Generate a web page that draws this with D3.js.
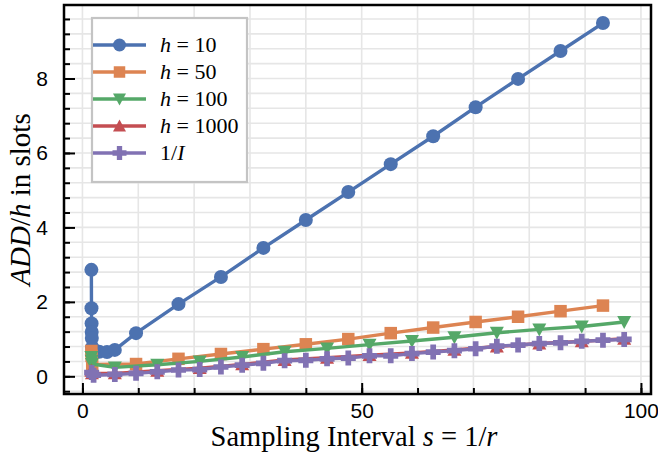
<!DOCTYPE html>
<html lang="en">
<head>
<meta charset="utf-8">
<title>ADD/h vs Sampling Interval</title>
<script src="https://d3js.org/d3.v7.min.js"></script>
<style>
  html,body { margin:0; padding:0; background:#fff; overflow:hidden; }
  svg { display:block; }
  .tick text { font-family:"Liberation Sans", Arial, sans-serif; font-size:21px; fill:#000; }
  .serif { font-family:"Liberation Serif", "Times New Roman", serif; fill:#000; }
</style>
</head>
<body>
<svg width="658" height="453"></svg>
<script>
/* ---------------- data ---------------- */
const xMajorTicks = [0, 50, 100];
const xMinorTicks = [0, 10, 20, 30, 40, 50, 60, 70, 80, 90, 100];
const yMajorTicks = [0, 2, 4, 6, 8];

// h = 10
const h10X = [1.6, 1.62, 1.64, 1.66, 1.68, 1.75, 3.0, 4.4, 5.8,
              9.6, 17.2, 24.8, 32.4, 40, 47.6, 55.2, 62.8, 70.4, 78, 85.6, 93.2];
const h10Y = [2.86, 1.83, 1.42, 1.19, 1.03, 0.78, 0.66, 0.65, 0.71,
              1.16, 1.94, 2.67, 3.45, 4.20, 4.95, 5.70, 6.45, 7.23, 7.99, 8.74, 9.49];

// h = 50
const h50X = [1.6, 1.65, 1.75, 9.6, 17.2, 24.8, 32.4, 40, 47.6, 55.2, 62.8, 70.4, 78, 85.6, 93.2];
const h50Y = [0.68, 0.55, 0.32, 0.33, 0.47, 0.60, 0.73, 0.86, 1.00, 1.16, 1.31, 1.46, 1.60, 1.75, 1.90];

// h = 100
const h100X = [1.6, 1.65, 1.7, 5.8, 13.4, 21, 28.6, 36.2, 43.8, 51.4, 59, 66.6, 74.2, 81.8, 89.4, 97];
const h100Y = [0.52, 0.42, 0.33, 0.24, 0.31, 0.40, 0.52, 0.66, 0.75, 0.85, 0.95, 1.05, 1.17, 1.26, 1.34, 1.46];

// h = 1000
const h1000X = [1.6, 1.7, 5.8, 13.4, 21, 28.6, 36.2, 43.8, 51.4, 59, 66.6, 74.2, 81.8, 89.4, 97];
const h1000Y = [0.15, 0.08, 0.08, 0.15, 0.22, 0.32, 0.44, 0.50, 0.57, 0.63, 0.71, 0.80, 0.88, 0.94, 1.01];

// 1/I
const invIX = [1.65, 2, 5.8, 9.6, 13.4, 17.2, 21, 24.8, 28.6, 32.4, 36.2, 40, 43.8, 47.6,
               51.4, 55.2, 59, 62.8, 66.6, 70.4, 74.2, 78, 81.8, 85.6, 89.4, 93.2, 97];
const invIY = [0.10, 0.03, 0.05, 0.08, 0.12, 0.17, 0.18, 0.25, 0.30, 0.35, 0.42, 0.43, 0.47, 0.49,
               0.55, 0.55, 0.61, 0.65, 0.69, 0.74, 0.81, 0.84, 0.88, 0.90, 0.94, 0.97, 0.99];

const series = [
  { label: ["h", "= 10"],   xs: h10X,   ys: h10Y,   color: "#4C72B0", marker: "circle" },
  { label: ["h", "= 50"],   xs: h50X,   ys: h50Y,   color: "#DD8452", marker: "square" },
  { label: ["h", "= 100"],  xs: h100X,  ys: h100Y,  color: "#55A868", marker: "tridown" },
  { label: ["h", "= 1000"], xs: h1000X, ys: h1000Y, color: "#C44E52", marker: "triup" },
  { label: ["1/", "I"],     xs: invIX,  ys: invIY,  color: "#8172B3", marker: "plus" }
];

/* ---------------- layout ---------------- */
const plot = { left: 64, right: 651, top: 5, bottom: 394 };

const x = d3.scaleLinear().domain([-3.3, 101.8]).range([plot.left, plot.right]);
const y = d3.scaleLinear().domain([-0.475, 9.975]).range([plot.bottom, plot.top]);

const svg = d3.select("svg");

// grid
const yMinor = d3.range(-1, 25).map(i => +(i * 0.4).toFixed(1));
const grid = svg.append("g").attr("stroke", "#e6e6e6").attr("stroke-width", 1.6);
grid.selectAll(".gx").data(xMinorTicks).join("line")
  .attr("x1", d => x(d)).attr("x2", d => x(d))
  .attr("y1", plot.top).attr("y2", plot.bottom);
grid.selectAll(".gy").data(yMinor).join("line")
  .attr("x1", plot.left).attr("x2", plot.right)
  .attr("y1", d => y(d)).attr("y2", d => y(d));

/* ---------------- series ---------------- */
function markerPath(type, s) {
  const a = s / 2;
  switch (type) {
    case "square":  return `M${-a},${-a}h${s}v${s}h${-s}Z`;
    case "tridown": return `M${-a},${-a * 0.85}L${a},${-a * 0.85}L0,${a}Z`;
    case "triup":   return `M${-a},${a * 0.85}L${a},${a * 0.85}L0,${-a}Z`;
    case "plus": {
      const t = s * 0.19;
      return `M${-t},${-a}H${t}V${-t}H${a}V${t}H${t}V${a}H${-t}V${t}H${-a}V${-t}H${-t}Z`;
    }
  }
}

function drawMarker(g, type, color, size) {
  if (type === "circle") {
    g.append("circle").attr("r", size / 2).attr("fill", color);
  } else {
    g.append("path").attr("d", markerPath(type, size)).attr("fill", color);
  }
}

const line = d3.line().x(d => x(d[0])).y(d => y(d[1]));
const sizes = { circle: 14, square: 12.5, tridown: 14, triup: 14, plus: 15 };

series.forEach(s => {
  const pts = s.xs.map((v, i) => [v, s.ys[i]]);
  const g = svg.append("g");
  g.append("path").datum(pts)
    .attr("d", line).attr("fill", "none")
    .attr("stroke", s.color).attr("stroke-width", 3.4)
    .attr("stroke-linejoin", "round");
  pts.forEach(p => {
    const m = g.append("g").attr("transform", `translate(${x(p[0])},${y(p[1])})`);
    drawMarker(m, s.marker, s.color, sizes[s.marker]);
  });
});

/* ---------------- axes ---------------- */
const xAxis = svg.append("g").attr("transform", `translate(0,${plot.bottom})`)
  .call(d3.axisBottom(x).tickValues(xMajorTicks).tickSize(-11).tickPadding(9).tickFormat(d3.format("d")));
const xAxisMinor = svg.append("g").attr("transform", `translate(0,${plot.bottom})`)
  .call(d3.axisBottom(x).tickValues(xMinorTicks).tickSize(-6).tickFormat(""));
const yAxis = svg.append("g").attr("transform", `translate(${plot.left},0)`)
  .call(d3.axisLeft(y).tickValues(yMajorTicks).tickSize(-11).tickPadding(16).tickFormat(d3.format("d")));
const yAxisMinor = svg.append("g").attr("transform", `translate(${plot.left},0)`)
  .call(d3.axisLeft(y).tickValues(yMinor).tickSize(-6).tickFormat(""));

[xAxis, xAxisMinor, yAxis, yAxisMinor].forEach(a => {
  a.select(".domain").remove();
  a.selectAll(".tick line").attr("stroke", "#000").attr("stroke-width", 2);
});

// frame
svg.append("rect")
  .attr("x", plot.left).attr("y", plot.top)
  .attr("width", plot.right - plot.left).attr("height", plot.bottom - plot.top)
  .attr("fill", "none").attr("stroke", "#000").attr("stroke-width", 2.5);

/* ---------------- labels ---------------- */
const xl = svg.append("text").attr("class", "serif")
  .attr("x", 354).attr("y", 446)
  .attr("text-anchor", "middle").attr("font-size", 28.5);
xl.append("tspan").text("Sampling Interval ");
xl.append("tspan").attr("font-style", "italic").text("s");
xl.append("tspan").text(" = 1/");
xl.append("tspan").attr("font-style", "italic").text("r");

const yl = svg.append("text").attr("class", "serif")
  .attr("transform", `translate(30,${(plot.top + plot.bottom) / 2}) rotate(-90)`)
  .attr("text-anchor", "middle").attr("font-size", 29);
yl.append("tspan").attr("font-style", "italic").text("ADD");
yl.append("tspan").text("/");
yl.append("tspan").attr("font-style", "italic").text("h");
yl.append("tspan").text(" in slots");

/* ---------------- legend ---------------- */
const legend = svg.append("g");
legend.append("rect")
  .attr("x", 92).attr("y", 18).attr("width", 155).attr("height", 164)
  .attr("fill", "#fff").attr("stroke", "#c4c4c4").attr("stroke-width", 2.2);

series.forEach((s, i) => {
  const cy = 45 + i * 27;
  const row = legend.append("g");
  row.append("line").attr("x1", 93).attr("x2", 146).attr("y1", cy).attr("y2", cy)
    .attr("stroke", s.color).attr("stroke-width", 3.4);
  const m = row.append("g").attr("transform", `translate(119.5,${cy})`);
  drawMarker(m, s.marker, s.color, sizes[s.marker] - 1);
  const t = row.append("text").attr("class", "serif")
    .attr("x", 160).attr("y", cy + 7).attr("font-size", 22);
  if (s.label[0] === "h") {
    t.append("tspan").attr("font-style", "italic").text("h");
    t.append("tspan").text(" " + s.label[1]);
  } else {
    t.append("tspan").text(s.label[0]);
    t.append("tspan").attr("font-style", "italic").text(s.label[1]);
  }
});
</script>
</body>
</html>
